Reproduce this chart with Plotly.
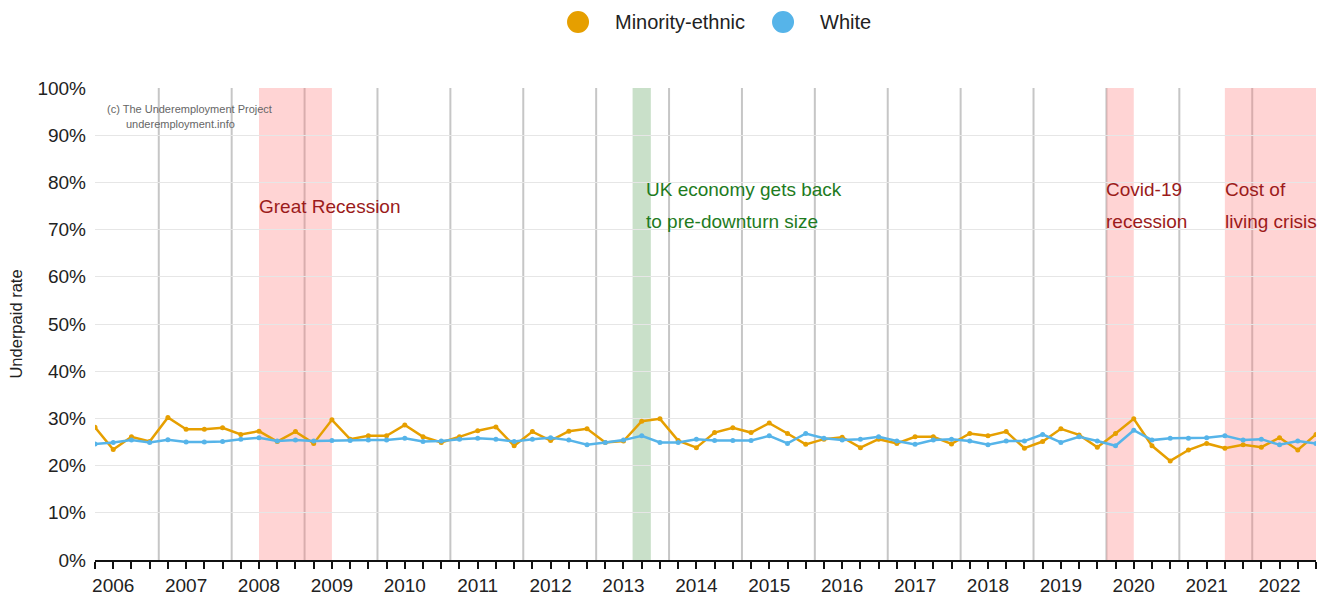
import plotly.graph_objects as go

years = [str(y) for y in range(2006, 2023)]

minority_ethnic = [
    28.1, 23.4, 26.1, 25.1, 30.2, 27.7, 27.7, 28.0, 26.6, 27.3, 25.1, 27.2, 24.7, 29.7, 25.6, 26.3,
    26.3, 28.6, 26.1, 24.9, 26.1, 27.4, 28.2, 24.2, 27.2, 25.3, 27.3, 27.8, 24.9, 25.2, 29.4, 29.9,
    25.3, 23.8, 27.0, 28.0, 27.0, 29.0, 26.8, 24.5, 25.6, 26.0, 23.8, 25.6, 24.7, 26.1, 26.1, 24.6,
    26.8, 26.3, 27.2, 23.7, 25.1, 27.8, 26.5, 23.9, 26.8, 29.9, 24.2, 21.0, 23.3, 24.7, 23.7, 24.4,
    23.9, 25.9, 23.3, 26.6,
]
white = [
    24.6, 24.9, 25.4, 24.9, 25.5, 25.0, 25.0, 25.1, 25.6, 25.9, 25.2, 25.4, 25.2, 25.3, 25.3, 25.4,
    25.4, 25.8, 25.1, 25.2, 25.6, 25.8, 25.6, 25.1, 25.6, 25.9, 25.4, 24.4, 24.9, 25.4, 26.3, 24.9,
    24.9, 25.6, 25.3, 25.3, 25.3, 26.3, 24.7, 26.8, 25.8, 25.4, 25.6, 26.1, 25.2, 24.5, 25.4, 25.6,
    25.2, 24.4, 25.2, 25.2, 26.6, 24.9, 26.1, 25.2, 24.2, 27.5, 25.4, 25.8, 25.8, 25.9, 26.3, 25.4,
    25.6, 24.4, 25.2, 24.7,
]

series_names = ["Minority-ethnic", "White"]

idx = list(range(len(white)))
tick_vals = idx
tick_text = [years[i // 4] if i % 4 == 1 else "" for i in idx]
year_bounds = [i + 3.5 for i in range(0, 64, 4)]

PINK = "rgba(255,120,120,0.32)"
GREEN = "rgba(40,130,40,0.25)"
RED_TXT = "#9b1b1b"
GREEN_TXT = "#1e7b1e"

event_start = [9.0, 29.5, 55.5, 62.0]
event_end = [13.0, 30.5, 57.0, 67.0]
event_fill = [PINK, GREEN, PINK, PINK]
event_label_x = [9.0, 30.23, 55.5, 62.0]
event_text = [["Great Recession"], ["UK economy gets back", "to pre-downturn size"],
              ["Covid-19", "recession"], ["Cost of", "living crisis"]]
event_color = [RED_TXT, GREEN_TXT, RED_TXT, RED_TXT]

ORANGE = "#E69F00"
BLUE = "#56B4E9"
FONT = "Liberation Sans, Arial, sans-serif"

fig = go.Figure()
fig.add_trace(go.Scatter(x=idx, y=minority_ethnic, mode="lines+markers", name=series_names[0],
                         line=dict(color=ORANGE, width=2.5), marker=dict(size=5, color=ORANGE),
                         showlegend=False))
fig.add_trace(go.Scatter(x=idx, y=white, mode="lines+markers", name=series_names[1],
                         line=dict(color=BLUE, width=2.5), marker=dict(size=5, color=BLUE),
                         showlegend=False))

shapes = []
for xb in year_bounds:
    shapes.append(dict(type="line", xref="x", yref="y", x0=xb, x1=xb, y0=0, y1=100,
                       line=dict(color="rgba(160,160,160,0.6)", width=2), layer="below"))
annotations = []
for x0, x1, fill, lx, lines, tcol in zip(event_start, event_end, event_fill, event_label_x,
                                          event_text, event_color):
    shapes.append(dict(type="rect", xref="x", yref="y", x0=x0, x1=x1, y0=0, y1=100,
                       fillcolor=fill, line=dict(width=0), layer="below"))
    ys = [74.85] if len(lines) == 1 else [78.45, 71.65]
    for t, yy in zip(lines, ys):
        annotations.append(dict(x=lx, y=yy, xref="x", yref="y", text=t, showarrow=False,
                                xanchor="left", yanchor="middle", xshift=-2,
                                font=dict(family=FONT, size=19, color=tcol)))

# custom legend (large circular symbols) at top centre
legend_sym_x = [0.3956, 0.5635]
legend_txt_x = [0.4259, 0.5938]
for name, col, sx, tx in zip(series_names, [ORANGE, BLUE], legend_sym_x, legend_txt_x):
    shapes.append(dict(type="circle", xref="paper", yref="paper",
                       xsizemode="pixel", ysizemode="pixel", xanchor=sx, yanchor=1.1398,
                       x0=-11, x1=11, y0=-11, y1=11, fillcolor=col, line=dict(width=0)))
    annotations.append(dict(x=tx, y=1.1398, xref="paper", yref="paper", text=name,
                            showarrow=False, xanchor="left", yanchor="middle", xshift=-2,
                            font=dict(family=FONT, size=20, color="#222222")))

annotations.append(dict(x=0.0082, y=0.955, xref="paper", yref="paper",
                        text="(c) The Underemployment Project", showarrow=False,
                        xanchor="left", yanchor="middle",
                        font=dict(family=FONT, size=11, color="#666666")))
annotations.append(dict(x=0.0237, y=0.924, xref="paper", yref="paper",
                        text="underemployment.info", showarrow=False,
                        xanchor="left", yanchor="middle",
                        font=dict(family=FONT, size=11, color="#666666")))

fig.update_layout(
    width=1331, height=595,
    margin=dict(l=95, r=15, t=88, b=35),
    paper_bgcolor="white", plot_bgcolor="white",
    font=dict(family=FONT, color="#333333"),
    shapes=shapes,
    annotations=annotations,
    showlegend=False,
    xaxis=dict(range=[0, 67], tickmode="array", tickvals=tick_vals, ticktext=tick_text,
               ticks="outside", ticklen=7, tickwidth=1.5, tickcolor="#111111",
               showline=True, linecolor="#111111", linewidth=2, showgrid=False,
               zeroline=False, tickangle=0, automargin=False,
               tickfont=dict(family=FONT, size=19, color="#222222")),
    yaxis=dict(range=[0, 100], tickvals=list(range(0, 101, 10)),
               ticktext=[f"{v}%" for v in range(0, 101, 10)],
               showgrid=True, gridcolor="#e6e6e6", gridwidth=1, zeroline=False,
               showline=False, ticks="", ticklabelstandoff=8, automargin=False,
               tickfont=dict(family=FONT, size=19, color="#222222")),
    yaxis_title=dict(text="Underpaid rate", standoff=10,
                     font=dict(family=FONT, size=16.5, color="#222222")),
)

fig.write_html("out.html", config={"displayModeBar": False},
               post_script="document.body.style.margin='0';document.body.style.padding='0';")
